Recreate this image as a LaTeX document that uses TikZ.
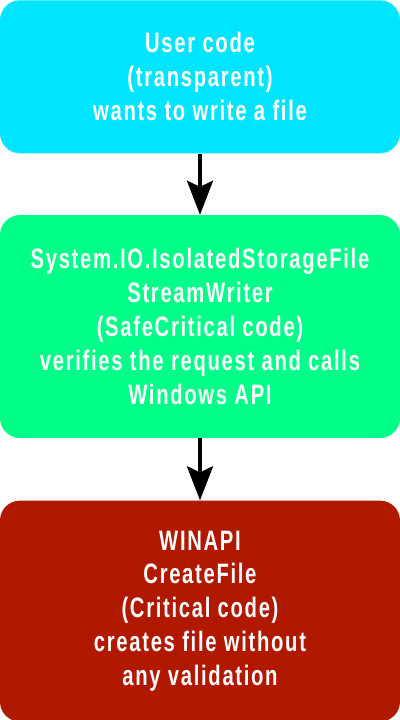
\documentclass[tikz,border=0pt]{standalone}
\usepackage{fontspec}
\setmainfont{Liberation Sans}[FakeStretch=0.72,LetterSpace=6]
\usepackage{xcolor}
\usetikzlibrary{positioning,arrows.meta}
\definecolor{usercyan}{RGB}{0,229,255}
\definecolor{safegreen}{RGB}{0,255,136}
\definecolor{critred}{RGB}{176,24,0}
\tikzset{
  stage/.style ={rounded corners=5mm, align=center, text=white, inner sep=0pt,
                 font=\fontsize{20}{24.1}\selectfont\bfseries, minimum width=10cm},
  ar/.style    ={-{Stealth[length=8.5mm,width=6.5mm,inset=1.5mm]}, draw=black, line width=2.4pt},
}
\begin{document}
\begin{tikzpicture}[node distance=15.3mm]
\useasboundingbox (-5,-18) rectangle (5,0);
\node[stage,fill=usercyan,minimum height=38.25mm,anchor=north] (user) at (0,0)
  {User code\\ (transparent)\\ wants to write a file};
\node[stage,fill=safegreen,minimum height=55.75mm,below=of user] (safe)
  {System.IO.IsolatedStorageFile\\ StreamWriter\\ (SafeCritical code)\\ verifies the request and calls\\ Windows API};
\node[stage,fill=critred,minimum height=55.25mm,below=15.5mm of safe] (winapi)
  {WINAPI\\ CreateFile\\ (Critical code)\\ creates file without\\ any validation};
\draw[ar] (user)--(safe); \draw[ar] (safe)--(winapi);
\end{tikzpicture}
\end{document}
